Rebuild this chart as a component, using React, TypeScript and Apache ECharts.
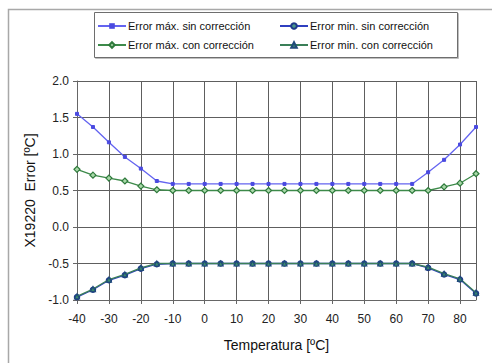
import React, { useEffect, useRef } from "react";
import * as echarts from "echarts";

const temps = [-40, -35, -30, -25, -20, -15, -10, -5, 0, 5, 10, 15, 20, 25, 30, 35, 40, 45, 50, 55, 60, 65, 70, 75, 80, 85];
const maxSin = [1.55, 1.37, 1.16, 0.96, 0.8, 0.63, 0.59, 0.59, 0.59, 0.59, 0.59, 0.59, 0.59, 0.59, 0.59, 0.59, 0.59, 0.59, 0.59, 0.59, 0.59, 0.59, 0.75, 0.92, 1.13, 1.37];
const maxCon = [0.79, 0.71, 0.67, 0.63, 0.56, 0.51, 0.5, 0.5, 0.5, 0.5, 0.5, 0.5, 0.5, 0.5, 0.5, 0.5, 0.5, 0.5, 0.5, 0.5, 0.5, 0.5, 0.5, 0.55, 0.6, 0.73];
const minSin = [-0.96, -0.86, -0.73, -0.66, -0.57, -0.51, -0.5, -0.5, -0.5, -0.5, -0.5, -0.5, -0.5, -0.5, -0.5, -0.5, -0.5, -0.5, -0.5, -0.5, -0.5, -0.5, -0.56, -0.65, -0.72, -0.91];
const minCon = [-0.95, -0.85, -0.72, -0.65, -0.56, -0.5, -0.5, -0.5, -0.5, -0.5, -0.5, -0.5, -0.5, -0.5, -0.5, -0.5, -0.5, -0.5, -0.5, -0.5, -0.5, -0.5, -0.55, -0.64, -0.71, -0.9];
const seriesNames = [
  "Error máx. sin corrección",
  "Error min. sin corrección",
  "Error máx. con corrección",
  "Error min. con corrección",
];
const xTitle = "Temperatura [ºC]";
const yTitle = "X19220  Error [ºC]";

const pairs = (vals: number[]) => temps.map((t, i) => [t, vals[i]]);

export default function App() {
  const ref = useRef<HTMLDivElement>(null);
  useEffect(() => {
    const chart = echarts.init(ref.current!, null, { renderer: "svg" });
    const legendFont = "'Liberation Sans Narrow', 'Arial Narrow', 'Liberation Sans', Arial, sans-serif";
    const mkLegend = (name: string, left: number, top: number) => ({
      data: [name],
      left,
      top,
      padding: 0,
      itemWidth: 28,
      itemHeight: 7,
      itemGap: 2,
      selectedMode: false,
      textStyle: { fontFamily: legendFont, fontSize: 11, color: "#111", lineHeight: 14, padding: [0, 0, 0, -3] },
    });
    chart.setOption({
      animation: false,
      backgroundColor: "#fff",
      graphic: [
        {
          type: "rect",
          shape: { x: 8.5, y: 9.5, width: 600, height: 500 },
          style: { fill: "none", stroke: "#a8a8a8", lineWidth: 1.5 },
          silent: true,
          z: -1,
        },
        {
          type: "rect",
          shape: { x: 94.5, y: 12.5, width: 363, height: 45 },
          style: { fill: "#fff", stroke: "#6e6e6e", lineWidth: 1, shadowColor: "rgba(0,0,0,0.25)", shadowOffsetX: 1, shadowOffsetY: 1, shadowBlur: 1 },
          silent: true,
          z: -1,
        },
      ],
      legend: [
        mkLegend(seriesNames[0], 97, 19),
        mkLegend(seriesNames[1], 279, 19),
        mkLegend(seriesNames[2], 97, 38),
        mkLegend(seriesNames[3], 279, 38),
      ],
      grid: { left: 77, right: 16, top: 81, bottom: 63, containLabel: false },
      xAxis: {
        type: "value",
        min: -40,
        max: 85,
        interval: 10,
        name: xTitle,
        nameLocation: "middle",
        nameGap: 38,
        nameTextStyle: { fontFamily: "'Liberation Sans', Arial, sans-serif", fontSize: 14, color: "#111" },
        axisLine: { onZero: false, lineStyle: { color: "#666", width: 1 } },
        axisTick: { show: true, length: 4, lineStyle: { color: "#666" } },
        axisLabel: {
          showMaxLabel: false,
          margin: 13,
          fontFamily: "'Liberation Sans', Arial, sans-serif",
          fontSize: 12,
          color: "#222",
        },
        splitLine: { show: true, lineStyle: { color: "#5e5e5e", width: 1 } },
      },
      yAxis: {
        type: "value",
        min: -1,
        max: 2,
        interval: 0.5,
        name: yTitle,
        nameLocation: "middle",
        nameGap: 40,
        nameRotate: 90,
        nameTextStyle: { fontFamily: "'Liberation Sans', Arial, sans-serif", fontSize: 14, color: "#111" },
        axisLine: { show: true, onZero: false, lineStyle: { color: "#666", width: 1 } },
        axisTick: { show: true, length: 4, lineStyle: { color: "#666" } },
        axisLabel: {
          margin: 8,
          formatter: (v: number) => v.toFixed(1),
          fontFamily: "'Liberation Sans', Arial, sans-serif",
          fontSize: 12,
          color: "#222",
        },
        splitLine: { show: true, lineStyle: { color: "#5e5e5e", width: 1 } },
      },
      series: [
        {
          name: seriesNames[0],
          type: "line",
          data: pairs(maxSin),
          symbol: "rect",
          symbolSize: 3,
          lineStyle: { color: "#6464f0", width: 1.3 },
          itemStyle: { color: "#4a4ae0", borderColor: "#4a4ae0" },
          z: 2,
        },
        {
          name: seriesNames[2],
          type: "line",
          data: pairs(maxCon),
          symbol: "diamond",
          symbolSize: 6,
          lineStyle: { color: "#3d8a4a", width: 1.3 },
          itemStyle: { color: "#a8d8a8", borderColor: "#2f7a3c", borderWidth: 1.2 },
          z: 2,
        },
        {
          name: seriesNames[1],
          type: "line",
          data: pairs(minSin),
          symbol: "circle",
          symbolSize: 5,
          lineStyle: { color: "#2f3fc0", width: 1.3 },
          itemStyle: { color: "#4a9a8a", borderColor: "#1f3a8a", borderWidth: 1.5 },
          z: 3,
        },
        {
          name: seriesNames[3],
          type: "line",
          data: pairs(minCon),
          symbol: "triangle",
          symbolSize: 5,
          lineStyle: { color: "#3a7f58", width: 1.3 },
          itemStyle: { color: "#3a8a6a", borderColor: "#1f4a7a", borderWidth: 1.2 },
          z: 4,
        },
      ],
    });
    return () => chart.dispose();
  }, []);
  return (
    <div
      ref={ref}
      style={{ position: "fixed", left: 0, top: 0, width: 492, height: 363 }}
    />
  );
}
